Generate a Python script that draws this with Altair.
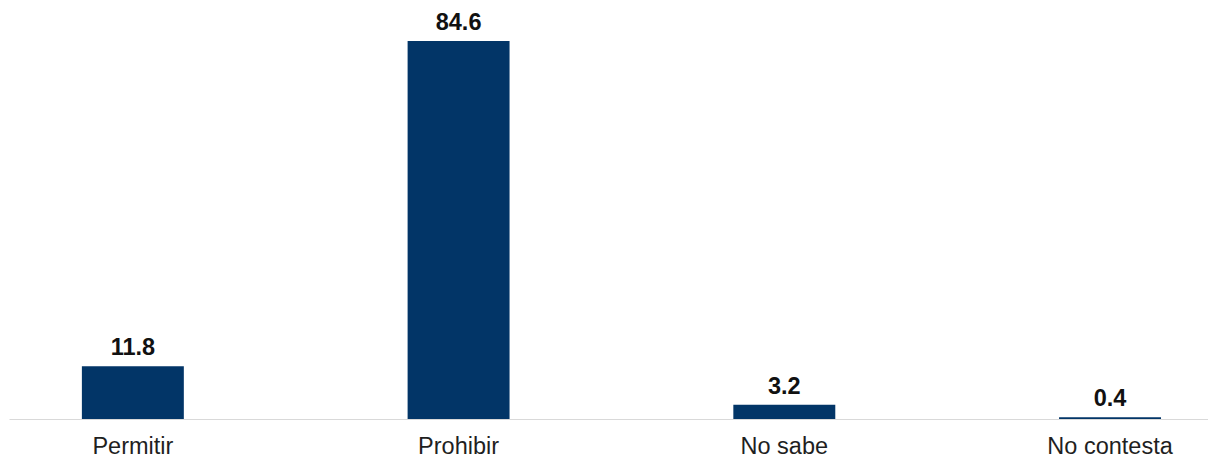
import altair as alt
import pandas as pd

categories = ["Permitir", "Prohibir", "No sabe", "No contesta"]
values = [11.8, 84.6, 3.2, 0.4]
labels = ["11.8", "84.6", "3.2", "0.4"]

df = pd.DataFrame({"cat": categories, "val": values, "lab": labels})

x = alt.X(
    "cat:N",
    sort=categories,
    title=None,
    scale=alt.Scale(paddingInner=0.687, paddingOuter=0.184, align=0.608),
    axis=alt.Axis(
        labelAngle=0,
        ticks=False,
        labelPadding=15,
        labelFont="Liberation Sans",
        labelFontSize=23.5,
        labelColor="#1f1f1f",
        domainColor="#d9d9d9",
        domainWidth=1.2,
        grid=False,
    ),
)
y = alt.Y("val:Q", scale=alt.Scale(domain=[0, 91.1], nice=False), axis=None)

bars = alt.Chart(df).mark_bar(color="#023567").encode(x=x, y=y)
text = alt.Chart(df).mark_text(
    font="Liberation Sans",
    fontSize=23.5,
    fontWeight="bold",
    color="#111111",
    baseline="alphabetic",
    dy=-11,
).encode(x=x, y=y, text="lab:N")

chart = (
    alt.layer(bars, text)
    .properties(
        width=1199,
        height=407,
        background="white",
        autosize=alt.AutoSizeParams(type="none"),
        padding={"left": 1, "top": 4, "right": 0, "bottom": 40},
    )
    .configure_view(strokeWidth=0, stroke="transparent")
)

chart.save("out.html", embed_options={"renderer": "svg", "actions": False})
